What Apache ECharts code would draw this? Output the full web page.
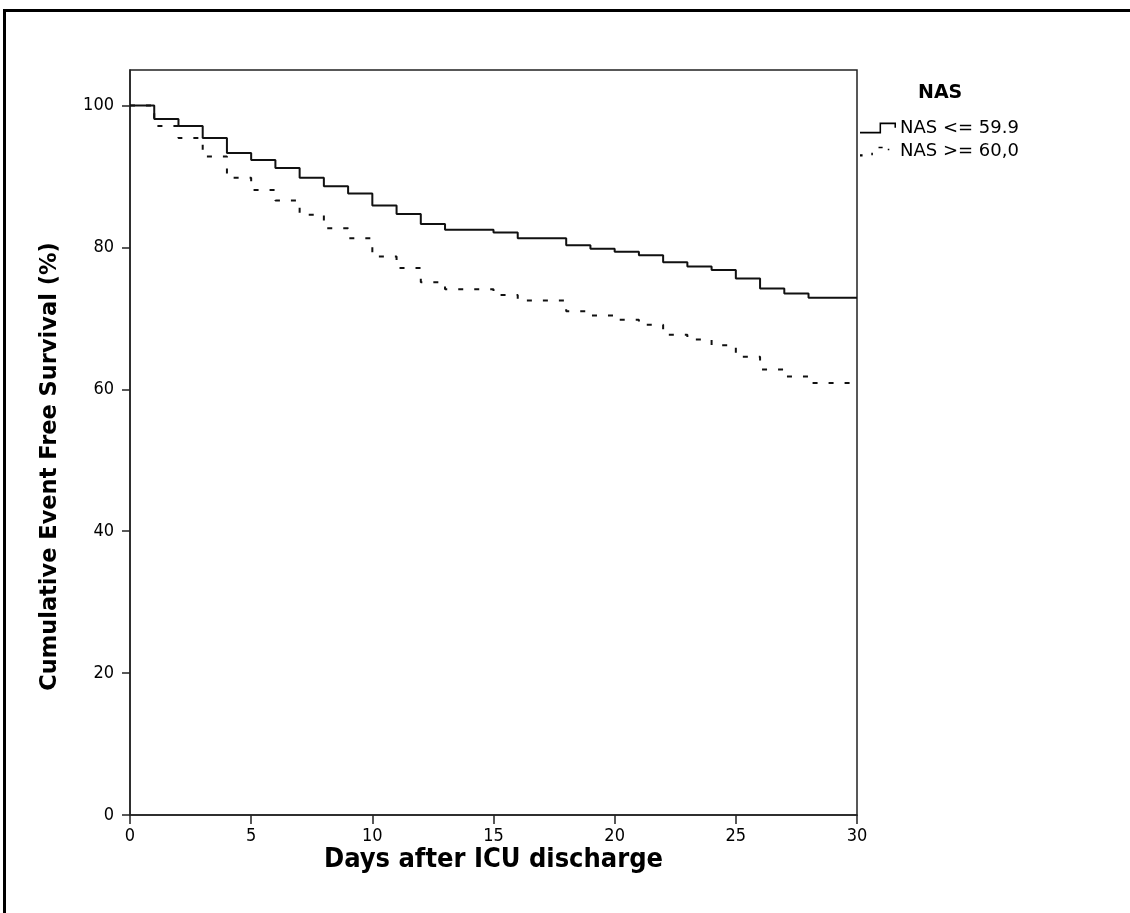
<!DOCTYPE html>
<html>
<head>
<meta charset="utf-8">
<script src="https://cdn.jsdelivr.net/npm/echarts@6/dist/echarts.min.js"></script>
<style>
  html, body { margin: 0; padding: 0; background: #fff; }
  #chart { width: 1130px; height: 913px; }
</style>
</head>
<body>
<div id="chart"></div>
<script>
// 数据：Kaplan-Meier 生存曲线
const legendTitle = 'NAS';
const seriesNames = ['NAS <= 59.9', 'NAS >= 60,0'];
const daysLow = [0, 1, 2, 3, 4, 5, 6, 7, 8, 9, 10, 11, 12, 13, 15, 16, 18, 19, 20, 21, 22, 23, 24, 25, 26, 27, 28, 30];
const survLow = [100, 98.1, 97.1, 95.4, 93.3, 92.3, 91.2, 89.8, 88.6, 87.6, 85.9, 84.7, 83.3, 82.5, 82.1, 81.3, 80.3, 79.8, 79.4, 78.9, 77.9, 77.3, 76.8, 75.6, 74.2, 73.5, 72.9, 72.9];
const daysHigh = [0, 1, 2, 3, 4, 5, 6, 7, 8, 9, 10, 11, 12, 13, 15, 16, 18, 19, 20, 21, 22, 23, 24, 25, 26, 27, 28, 30];
const survHigh = [100, 97.1, 95.4, 92.8, 89.8, 88.1, 86.6, 84.6, 82.7, 81.3, 78.7, 77.1, 75.1, 74.1, 73.3, 72.5, 71.0, 70.4, 69.8, 69.1, 67.7, 67.0, 66.2, 64.6, 62.8, 61.8, 60.9, 60.9];
const yTicks = [0, 20, 40, 60, 80, 100];

function pairs(xs, ys) {
    return xs.map((x, i) => [x, ys[i]]);
}

const chart = echarts.init(document.getElementById('chart'));

const tickFont = "'DejaVu Sans Condensed', 'DejaVu Sans', sans-serif";
const axisColor = '#222';

const option = {
    backgroundColor: '#fff',
    animation: false,
    title: {
        text: legendTitle,
        left: 918,
        top: 84,
        padding: 0,
        textStyle: { fontFamily: 'DejaVu Sans', fontWeight: 'bold', fontSize: 19, color: '#000' }
    },
    legend: {
        orient: 'vertical',
        left: 860,
        top: 119,
        padding: 0,
        itemWidth: 36,
        itemHeight: 11,
        itemGap: 5,
        textStyle: { fontFamily: 'DejaVu Sans', fontSize: 18, color: '#000', lineHeight: 18, padding: [0, 0, 0, -1] },
        data: [
            {
                name: seriesNames[0],
                icon: 'path://M0,9L19,9L19,0L35,0L35,5L33.5,5L33.5,1.5L20.5,1.5L20.5,10.5L0,10.5Z',
                itemStyle: { color: '#000' }
            },
            {
                name: seriesNames[1],
                icon: 'path://M0,8.5h2.5v2h-2.5zM11,7h1.5v2.5h-1.5zM18,1h4v1.5h-4zM27,3h1.5v1.5h-1.5zM35,0h0v10.5h0z',
                itemStyle: { color: '#000' }
            }
        ]
    },
    grid: {
        left: 130,
        right: 273,
        top: 70,
        bottom: 98,
        show: true,
        borderColor: axisColor,
        borderWidth: 1.5
    },
    xAxis: {
        type: 'value',
        min: 0,
        max: 30,
        interval: 5,
        name: 'Days after ICU discharge',
        nameLocation: 'middle',
        nameGap: 31,
        nameMoveOverlap: false,
        nameTextStyle: { fontFamily: tickFont, fontWeight: 'bold', fontSize: 27, color: '#000' },
        splitLine: { show: false },
        axisLine: { show: true, lineStyle: { color: axisColor, width: 1.5 } },
        axisTick: { show: true, inside: false, length: 9, lineStyle: { color: axisColor, width: 1.5 } },
        axisLabel: { fontFamily: tickFont, fontSize: 18, color: '#000', margin: 12 }
    },
    yAxis: {
        type: 'value',
        min: 0,
        max: 105,
        name: 'Cumulative Event Free Survival (%)',
        nameLocation: 'middle',
        nameGap: 68,
        nameMoveOverlap: false,
        nameTextStyle: { fontFamily: 'DejaVu Sans', fontWeight: 'bold', fontSize: 22.5, color: '#000', padding: [0, 48, 0, 0] },
        splitLine: { show: false },
        axisLine: { show: true, lineStyle: { color: axisColor, width: 1.5 } },
        axisTick: { show: true, inside: false, length: 8, customValues: yTicks, lineStyle: { color: axisColor, width: 1.5 } },
        axisLabel: { fontFamily: tickFont, fontSize: 18, color: '#000', margin: 16, customValues: yTicks }
    },
    series: [
        {
            name: seriesNames[0],
            type: 'line',
            step: 'end',
            showSymbol: false,
            data: pairs(daysLow, survLow),
            itemStyle: { color: '#000' },
            lineStyle: { color: '#111', width: 2 }
        },
        {
            name: seriesNames[1],
            type: 'line',
            step: 'end',
            showSymbol: false,
            data: pairs(daysHigh, survHigh),
            itemStyle: { color: '#000' },
            lineStyle: { color: '#111', width: 2, type: [5, 11] }
        }
    ],
    graphic: [
        {
            type: 'rect',
            silent: true,
            shape: { x: 4.5, y: 10.5, width: 1200, height: 1000 },
            style: { fill: 'none', stroke: '#000', lineWidth: 3 }
        }
    ]
};

chart.setOption(option);
</script>
</body>
</html>
